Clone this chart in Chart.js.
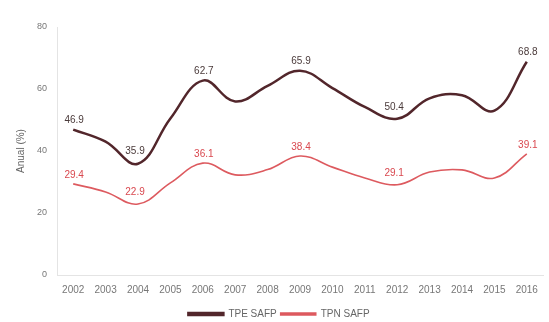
<!DOCTYPE html>
<html>
<head>
<meta charset="utf-8">
<script src="https://cdn.jsdelivr.net/npm/chart.js@4/dist/chart.umd.min.js"></script>
<style>
  html, body { margin: 0; padding: 0; background: #fff; }
  #wrap { width: 549px; height: 322px; }
</style>
</head>
<body>
<div id="wrap"><canvas id="chart" width="549" height="322"></canvas></div>
<script>
// values
const years = ["2002", "2003", "2004", "2005", "2006", "2007", "2008", "2009",
               "2010", "2011", "2012", "2013", "2014", "2015", "2016"];
const tpeSafp = [46.9, 43.0, 35.9, 50.5, 62.7, 56.0, 61.0, 65.9, 60.3, 54.2, 50.4, 57.0, 58.0, 53.0, 68.8];
const tpnSafp = [29.4, 26.8, 22.9, 29.7, 36.1, 32.3, 34.0, 38.4, 34.8, 31.3, 29.1, 33.2, 33.9, 31.3, 39.1];
// which points carry a value label
const labelledIdx = [0, 2, 4, 7, 10, 14];
const yTicks = [0, 20, 40, 60, 80];

const FONT = "'Liberation Sans', Arial, sans-serif";

// Small plugin: write the value above selected points
const pointLabels = {
  id: "pointLabels",
  afterDatasetsDraw(chart) {
    const ctx = chart.ctx;
    ctx.save();
    ctx.font = "10px " + FONT;
    ctx.textAlign = "center";
    ctx.textBaseline = "bottom";
    chart.data.datasets.forEach((ds, di) => {
      const meta = chart.getDatasetMeta(di);
      labelledIdx.forEach(i => {
        const pt = meta.data[i];
        const v = ds.data[i];
        // a dip: lift the label a bit more so it clears the curve
        const dip = i > 0 && i < ds.data.length - 1 && v < ds.data[i - 1] && v < ds.data[i + 1];
        ctx.fillStyle = ds.labelColor;
        ctx.fillText(v.toFixed(1), pt.x + (dip ? -3 : 1), pt.y - (dip ? 7 : 4));
      });
    });
    ctx.restore();
  }
};

new Chart(document.getElementById("chart"), {
  type: "line",
  data: {
    labels: years,
    datasets: [
      {
        label: "TPE SAFP",
        data: tpeSafp,
        borderColor: "#52262b",
        backgroundColor: "#52262b",
        labelColor: "#4a3a3a",
        borderWidth: 2.5,
        pointRadius: 0,
        tension: 0.4
      },
      {
        label: "TPN SAFP",
        data: tpnSafp,
        borderColor: "#dd5a5f",
        backgroundColor: "#dd5a5f",
        labelColor: "#d9484f",
        borderWidth: 1.6,
        pointRadius: 0,
        tension: 0.4
      }
    ]
  },
  options: {
    responsive: false,
    animation: false,
    layout: { padding: { top: 27, right: 6, left: 15, bottom: -7 } },
    plugins: {
      legend: {
        position: "bottom",
        labels: {
          font: { family: FONT, size: 10 },
          color: "#666",
          boxWidth: 35,
          boxHeight: 2,
          padding: 4
        }
      },
      tooltip: { enabled: false }
    },
    scales: {
      x: {
        offset: true,
        grid: { display: false, drawTicks: false },
        border: { display: true, color: "#e4e4e4" },
        ticks: { font: { family: FONT, size: 10 }, color: "#777", maxRotation: 0, autoSkip: false, padding: 9 }
      },
      y: {
        min: 0,
        max: 80,
        afterBuildTicks: axis => { axis.ticks = yTicks.map(v => ({ value: v })); },
        afterFit: axis => { axis.width = 42; },
        grid: { display: false, drawTicks: false },
        border: { display: true, color: "#e4e4e4" },
        ticks: { font: { family: FONT, size: 9 }, color: "#777", padding: 10 },
        title: { display: true, text: "Anual (%)", font: { family: FONT, size: 10 }, color: "#666", padding: 0 }
      }
    }
  },
  plugins: [pointLabels]
});
</script>
</body>
</html>
